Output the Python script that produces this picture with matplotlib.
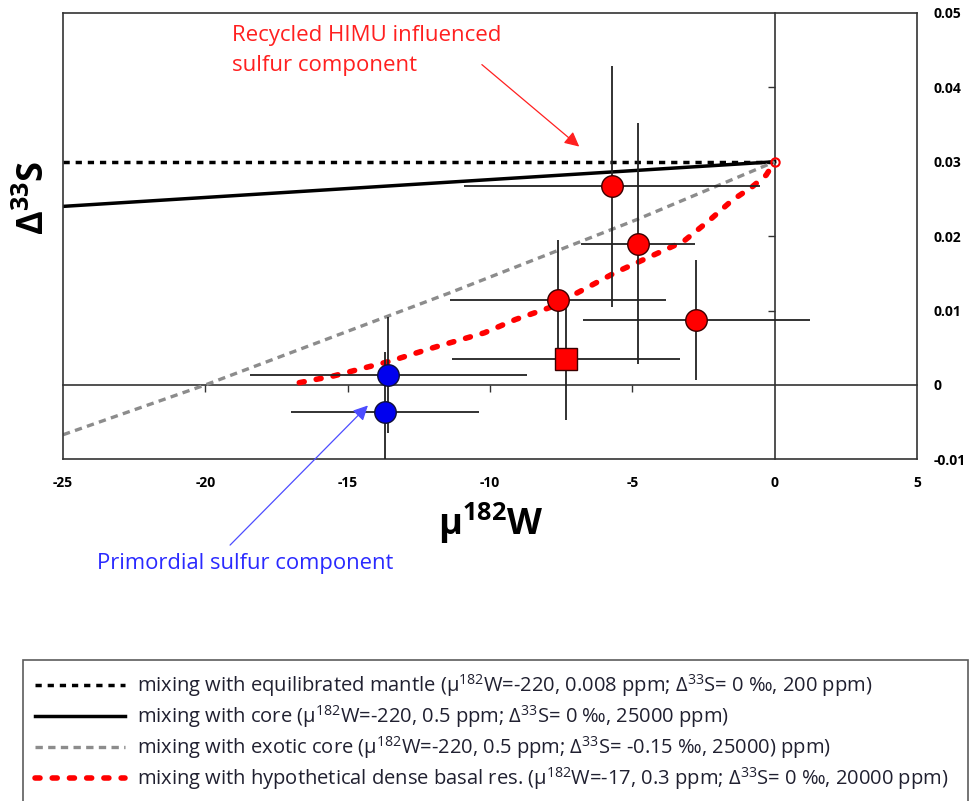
import matplotlib
matplotlib.use('Agg')
import matplotlib.pyplot as plt

plt.rcParams['font.family'] = ['Open Sans', 'DejaVu Sans']
plt.rcParams['mathtext.default'] = 'regular'

# mixing curves
eq_x = [-25, 0]
eq_y = [0.030, 0.030]
core_x = [-25, 0]
core_y = [0.0240, 0.0300]
exo_x = [-25, -20, -11.4, -4.86, 0]
exo_y = [-0.0067, 0.0, 0.0124, 0.0222, 0.0300]
dbr_x = [-16.7, -15.5, -13.5, -12.0, -10.2, -9.1, -7.9, -5.6, -3.2, -2.3, -1.5, -0.8, -0.3, 0.0]
dbr_y = [0.0003, 0.0012, 0.0032, 0.0050, 0.0070, 0.0088, 0.0104, 0.0151, 0.0193, 0.0221, 0.0248, 0.0266, 0.0282, 0.0300]

# samples
red_x = [-5.73, -4.8, -7.61, -2.75]
red_y = [0.0267, 0.0190, 0.0114, 0.0087]
red_xerr = [5.2, 2.0, 3.8, 4.0]
red_yerr = [0.0162, 0.0162, 0.0081, 0.0081]
sq_x = [-7.33]
sq_y = [0.0035]
sq_xerr = [4.0]
sq_yerr = [0.0082]
blue_x = [-13.57, -13.68]
blue_y = [0.00135, -0.0036]
blue_xerr = [4.87, 3.3]
blue_yerr = [0.0078, 0.0080]

xticks = [-25, -20, -15, -10, -5, 0, 5]
xtick_labels = ['-25', '-20', '-15', '-10', '-5', '0', '5']
yticks = [-0.01, 0.0, 0.01, 0.02, 0.03, 0.04, 0.05]
ytick_labels = ['-0.01', '0', '0.01', '0.02', '0.03', '0.04', '0.05']

legend_labels = [
    'mixing with equilibrated mantle (μ$^{182}$W=-220, 0.008 ppm; Δ$^{33}$S= 0 ‰, 200 ppm)',
    'mixing with core (μ$^{182}$W=-220, 0.5 ppm; Δ$^{33}$S= 0 ‰, 25000 ppm)',
    'mixing with exotic core (μ$^{182}$W=-220, 0.5 ppm; Δ$^{33}$S= -0.15 ‰, 25000) ppm)',
    'mixing with hypothetical dense basal res. (μ$^{182}$W=-17, 0.3 ppm; Δ$^{33}$S= 0 ‰, 20000 ppm)',
]

fig = plt.figure(figsize=(9.8, 8.01), dpi=100)
ax = fig.add_axes([0.0643, 0.4266, 0.8714, 0.5572])
ax.set_xlim(-25, 5)
ax.set_ylim(-0.01, 0.05)

for s in ax.spines.values():
    s.set_color('#333333')
    s.set_linewidth(1.2)

ax.set_xticks(xticks)
ax.set_xticklabels(xtick_labels)
ax.yaxis.tick_right()
ax.set_yticks(yticks)
ax.set_yticklabels(ytick_labels)
ax.tick_params(axis='x', length=0, labelsize=10, pad=12)
ax.tick_params(axis='y', length=0, labelsize=10, pad=12)
for t in ax.get_xticklabels() + ax.get_yticklabels():
    t.set_fontweight('bold')

# zero lines with small ticks
zx = ax.secondary_xaxis(0, transform=ax.transData)
zx.set_xticks([-20, -15, -10, -5])
zx.tick_params(direction='out', length=5, width=1, color='#333333', labelbottom=False)
zx.spines['bottom'].set_color('#333333')
zx.spines['bottom'].set_linewidth(1.2)
zy = ax.secondary_yaxis(0, transform=ax.transData)
zy.set_yticks([0.01, 0.02, 0.03, 0.04])
zy.tick_params(direction='out', length=5, width=1, color='#333333', labelleft=False)
zy.spines['left'].set_color('#333333')
zy.spines['left'].set_linewidth(1.2)

l1, = ax.plot(eq_x, eq_y, color='black', lw=2.5, dashes=(1.8, 1.7), zorder=2)
l2, = ax.plot(core_x, core_y, color='black', lw=2.5, zorder=2)
l3, = ax.plot(exo_x, exo_y, color='#8c8c8c', lw=2.4, dashes=(2.2, 1.6), zorder=2)
l4, = ax.plot(dbr_x, dbr_y, color='red', lw=4, dashes=(0.9, 2.2), dash_capstyle='round', zorder=2.5)
ax.plot(dbr_x[-1], dbr_y[-1], 'o', ms=6, mfc='none', mec='red', mew=1.5, zorder=2.5)

ax.errorbar(red_x, red_y, xerr=red_xerr, yerr=red_yerr, fmt='none', ecolor='#222222', elinewidth=1.3, capsize=0, zorder=3)
ax.errorbar(sq_x, sq_y, xerr=sq_xerr, yerr=sq_yerr, fmt='none', ecolor='#222222', elinewidth=1.3, capsize=0, zorder=3)
ax.errorbar(blue_x, blue_y, xerr=blue_xerr, yerr=blue_yerr, fmt='none', ecolor='#222222', elinewidth=1.3, capsize=0, zorder=3)
ax.plot(red_x, red_y, 'o', ms=15.5, mfc='red', mec='#3a0000', mew=1, zorder=4)
ax.plot(sq_x, sq_y, 's', ms=15.5, mfc='red', mec='#3a0000', mew=1, zorder=4)
ax.plot(blue_x, blue_y, 'o', ms=15.5, mfc='#0000ee', mec='#10103a', mew=1, zorder=4)

ax.text(-19.07, 0.0484, 'Recycled HIMU influenced\nsulfur component', color='#ff2020',
        fontsize=16, ha='left', va='top', linespacing=1.55)
ax.annotate('', xy=(-6.79, 0.0318), xytext=(-10.36, 0.0433),
            arrowprops=dict(arrowstyle='-|>', color='#ff2020', lw=0.9, mutation_scale=22))
ax.text(-18.6, -0.024, 'Primordial sulfur component', color='#2a2aff',
        fontsize=15.8, ha='center', va='center')
ax.annotate('', xy=(-14.22, -0.0025), xytext=(-19.2, -0.0218), annotation_clip=False,
            arrowprops=dict(arrowstyle='-|>', color='#4d4dff', lw=0.9, mutation_scale=22))

ax.set_xlabel('μ$^{182}$W', fontsize=26, fontweight='bold')
ax.xaxis.set_label_coords(0.501, -0.093)
ax.yaxis.set_label_position('left')
ax.set_ylabel('Δ$^{33}$S', fontsize=26, fontweight='bold')
ax.yaxis.set_label_coords(-0.012, 0.585)

leg = fig.legend([l1, l2, l3, l4], legend_labels, loc='upper left',
                 bbox_to_anchor=(0.0232, 0, 0.9646, 1 - 660 / 801), mode='expand',
                 fontsize=14.5, frameon=True, fancybox=False, edgecolor='#333333',
                 handlelength=4.5, handletextpad=0.55, borderpad=0.6, labelspacing=0.2,
                 borderaxespad=0)
leg.get_frame().set_linewidth(1.2)
for t in leg.get_texts():
    t.set_color('#202030')

fig.savefig('out.png', dpi=100)
